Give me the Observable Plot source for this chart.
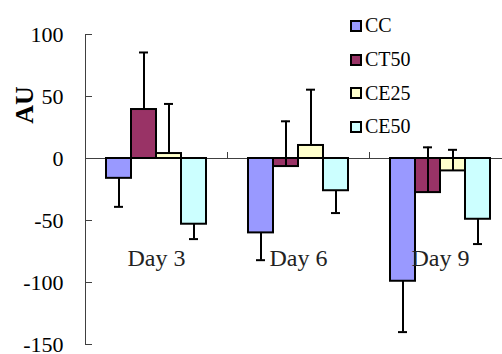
<!DOCTYPE html>
<html>
<head>
<meta charset="utf-8">
<script src="https://cdn.jsdelivr.net/npm/d3@7"></script>
<script src="https://cdn.jsdelivr.net/npm/@observablehq/plot@0.6"></script>
<style>
  html, body { margin: 0; padding: 0; background: #fff; }
  #wrap { position: relative; width: 502px; height: 354px; overflow: hidden; font-family: "Liberation Serif", "Times New Roman", serif; }
  #legend { position: absolute; left: 350px; top: 9px; }
  .row { display: flex; align-items: center; height: 33.7px; font-size: 20px; color: #000; }
  .sw { width: 12px; height: 12px; box-sizing: border-box; border: 2px solid #000; margin-right: 3px; }
</style>
</head>
<body>
<div id="wrap"></div>
<script>
const days = ["Day 3", "Day 6", "Day 9"];
const series = ["CC", "CT50", "CE25", "CE50"];
const colors = ["#9999FF", "#993366", "#FFFFCC", "#CCFFFF"];
const valCC   = [-16, -60, -99];
const valCT50 = [39.5, -6.5, -27.5];
const valCE25 = [4, 10.5, -10];
const valCE50 = [-53, -26, -49];
const errCC   = [-23, -22, -41];
const errCT50 = [46, 36.5, 36.5];
const errCE25 = [40, 45, 17];
const errCE50 = [-12, -18, -20];
const yTicks = [100, 50, 0, -50, -100, -150];
const yLabel = "AU";

const vals = [valCC, valCT50, valCE25, valCE50];
const errs = [errCC, errCT50, errCE25, errCE50];
const data = [];
days.forEach((day, i) => series.forEach((s, j) => {
  data.push({day, series: s, value: vals[j][i], err: errs[j][i]});
}));

const chart = Plot.plot({
  width: 502,
  height: 354,
  marginLeft: 85,
  marginRight: -9,
  marginTop: 34,
  marginBottom: 10,
  style: {fontFamily: "'Liberation Serif', 'Times New Roman', serif", fontSize: "22px", background: "transparent", color: "#000"},
  fx: {domain: days, paddingInner: 0, paddingOuter: 0, axis: null, label: null},
  x: {domain: series, paddingInner: 0, paddingOuter: 0.757, axis: null, label: null},
  y: {domain: [-150, 100], label: null},
  color: {domain: series, range: colors},
  marks: [
    Plot.axisY(yTicks, {tickSize: 0, tickPadding: 22, fontSize: 22, tickFormat: d => String(d), label: null, fill: "#000"}),
    Plot.ruleY([0], {stroke: "#404040", strokeWidth: 1}),
    Plot.barY(data, {fx: "day", x: "series", y: "value", fill: "series", stroke: "#000", strokeWidth: 2}),
    Plot.ruleX(data, {fx: "day", x: "series", y1: "value", y2: d => d.value + d.err, stroke: "#000", strokeWidth: 2}),
    Plot.tickY(data, {fx: "day", x: "series", y: d => d.value + d.err, stroke: "#000", strokeWidth: 2, inset: 8}),
    Plot.text(days, {fx: d => d, y: () => -87, text: d => d, lineAnchor: "bottom", fontSize: 24, fill: "#222"})
  ]
});

// axis line, inward ticks and category ticks from the Plot scales
const svg = d3.select(chart);
const ys = chart.scale("y");
const fxs = chart.scale("fx");
const x0 = fxs.apply(days[0]);
const g = svg.append("g").attr("stroke", "#404040").attr("stroke-width", 1);
g.append("line").attr("x1", x0 + 0.5).attr("x2", x0 + 0.5)
  .attr("y1", ys.apply(d3.max(yTicks))).attr("y2", ys.apply(d3.min(yTicks)));
yTicks.forEach(t => {
  g.append("line").attr("x1", x0).attr("x2", x0 + 7)
    .attr("y1", ys.apply(t) + 0.5).attr("y2", ys.apply(t) + 0.5);
});
days.slice(1).forEach(d => {
  const xx = fxs.apply(d) + 0.5;
  g.append("line").attr("x1", xx).attr("x2", xx)
    .attr("y1", ys.apply(0)).attr("y2", ys.apply(0) - 6);
});
svg.append("text")
  .attr("transform", `translate(33, ${(ys.apply(100) + ys.apply(0)) / 2 + 9}) rotate(-90)`)
  .attr("text-anchor", "middle")
  .attr("font-weight", "bold")
  .attr("font-size", 26)
  .attr("fill", "#000")
  .text(yLabel);

const wrap = document.getElementById("wrap");
wrap.appendChild(chart);
chart.style.position = "absolute";
chart.style.left = "0";
chart.style.top = "0";

const legend = document.createElement("div");
legend.id = "legend";
series.forEach((s, j) => {
  const row = document.createElement("div");
  row.className = "row";
  const sw = document.createElement("div");
  sw.className = "sw";
  sw.style.background = colors[j];
  const lab = document.createElement("span");
  lab.textContent = s;
  row.appendChild(sw);
  row.appendChild(lab);
  legend.appendChild(row);
});
wrap.appendChild(legend);
</script>
</body>
</html>
